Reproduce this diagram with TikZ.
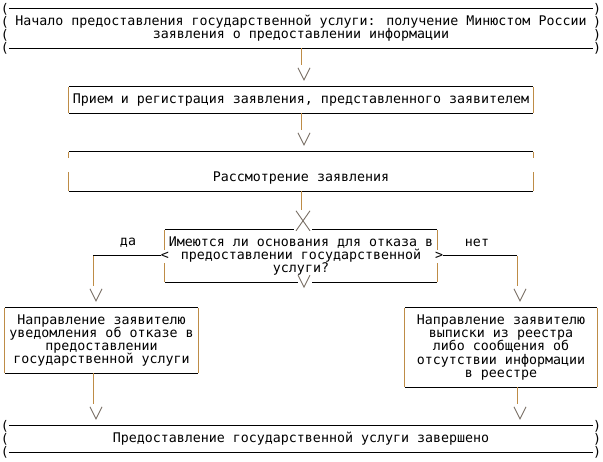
\documentclass[tikz,border=0pt]{standalone}
\usepackage{fontspec}
\newfontfamily\mono{DejaVu Sans Mono}
\usetikzlibrary{calc}
\definecolor{vcol}{RGB}{190,140,70}
\definecolor{tipcol}{RGB}{120,110,100}
\newcommand\boxedge[1]{\draw[vline] (#1.north west) -- (#1.south west) (#1.north east) -- (#1.south east);
\draw[hline] (#1.north west) -- (#1.north east) (#1.south west) -- (#1.south east);}
\newcommand\flow[2]{\draw[vline] (#1) -- ($(#1 |- #2.north)+(0,-22)$);
\pic at ($(#1 |- #2.north)+(3,-7)$) {vee};}

\begin{document}
\begin{tikzpicture}[x=1pt,y=-1pt]
\tikzstyle{every node}=[inner sep=0pt,align=center,font=\mono\fontsize{13.3}{13.3}\selectfont];
\tikzstyle{hline}=[draw=black,line width=1pt];
\tikzstyle{vline}=[draw=vcol,line width=1pt];
\tikzset{vee/.pic={\draw[tipcol,line width=0.9pt] (-6,-12) -- (0,0) -- (6,-12);},
cross/.pic={\draw[tipcol,line width=0.9pt] (-5,-19) -- (9,1) (9,-19) -- (-5,1);}}
\useasboundingbox (0,0) rectangle (603,462);

\node[minimum width=584pt,minimum height=39pt] (start) at (301,28.5) {Начало предоставления государственной услуги: получение Минюстом России\\заявления о предоставлении информации};
\node[minimum width=464pt,minimum height=26pt] (reg) at (301,100) {Прием и регистрация заявления, представленного заявителем};
\node[minimum width=464pt,text height=30pt,text depth=9pt] (rev) at (301,171.5) {Рассмотрение заявления};
\node[minimum width=272pt,minimum height=52pt] (ask) at (301,256) {Имеются ли основания для отказа в\\предоставлении государственной\\услуги?};
\node[minimum width=193pt,minimum height=65pt] (refuse) at (101.5,340.5) {Направление заявителю\\уведомления об отказе в\\предоставлении\\государственной услуги};
\node[minimum width=192pt,minimum height=79pt] (issue) at (501,347.5) {Направление заявителю\\выписки из реестра\\либо сообщения об\\отсутствии информации\\в реестре};
\node[minimum width=584pt,minimum height=26pt] (done) at (301,439) {Предоставление государственной услуги завершено};
\node (lt) at (ask.west) {<};
\node (gt) at ($(ask.east)+(2,0)$) {>};
\node (da) at (128,243) {да};
\node (net) at (477,243) {нет};

\draw[hline] (start.north west) -- (start.north east) (start.south west) -- (start.south east);
\foreach \y in {9,22,35,48} {\node (l\y) at (5,\y) {(}; \node (r\y) at (597,\y) {)};}
\draw[hline] (done.north west) -- (done.north east) (done.south west) -- (done.south east);
\foreach \y in {426,439,452} {\node (l\y) at (5,\y) {(}; \node (r\y) at (597,\y) {)};}
\boxedge{reg}
\boxedge{refuse}
\boxedge{issue}

\draw[vline] (rev.north west) -- +(0,6) ($(rev.south west)+(0,-19)$) -- (rev.south west)
(rev.north east) -- +(0,6) ($(rev.south east)+(0,-19)$) -- (rev.south east);
\draw[hline] (rev.north west) -- (rev.north east) (rev.south west) -- (rev.south east);

\draw[vline] (ask.north west) -- +(0,20) ($(ask.south west)+(0,-19)$) -- (ask.south west)
(ask.north east) -- +(0,20) ($(ask.south east)+(0,-19)$) -- (ask.south east);
\draw[hline] (ask.north west) -- ($(ask.north)+(-7,0)$) ($(ask.north)+(11,0)$) -- (ask.north east)
(ask.south west) -- ($(ask.south)+(-3,0)$) ($(ask.south)+(11,0)$) -- (ask.south east);
\pic at ($(ask.south)+(3,5)$) {vee};

\flow{start.south}{reg}
\flow{reg.south}{rev}
\draw[vline] (rev.south) -- ($(ask.north)+(0,-20)$);
\pic at (ask.north) {cross};

\coordinate (yes) at (93,256);
\coordinate (no) at (517,256);
\draw[hline] (lt.west) -- (yes);
\draw[hline] (gt.east) -- (no);
\flow{yes}{refuse}
\flow{no}{issue}
\coordinate (yesout) at (refuse.south -| yes);
\coordinate (noout) at (issue.south -| no);
\flow{yesout}{done}
\flow{noout}{done}
\end{tikzpicture}
\end{document}
